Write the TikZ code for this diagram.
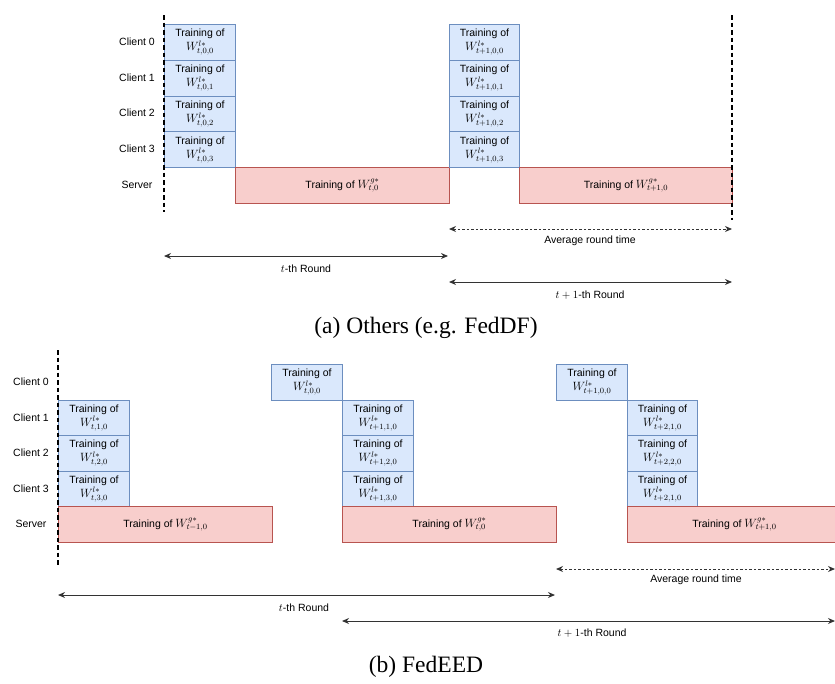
\documentclass[tikz,border=0pt]{standalone}
\usepackage{fontspec}
\setmainfont{Liberation Sans}
\newfontfamily\capfont{Liberation Serif}
\usetikzlibrary{arrows.meta}
\definecolor{cbdraw}{HTML}{6C8EBF}
\definecolor{cbfill}{HTML}{DAE8FC}
\definecolor{srdraw}{HTML}{B85450}
\definecolor{srfill}{HTML}{F8CECC}
\newcommand{\lblfont}{\fontsize{10.5}{12.5}\selectfont}
\newcommand{\wsz}{\fontsize{11.5}{12.5}\selectfont}
\newcommand{\WL}[1]{{\wsz$W^{l*}_{#1}$}}
\newcommand{\WG}[1]{{\wsz$W^{g*}_{#1}$}}
\tikzset{
  cbox/.style={draw=cbdraw, fill=cbfill, line width=0.9pt, minimum width=71pt, minimum height=35.75pt, inner sep=0pt, anchor=north west, align=center, font=\lblfont},
  sbox/.style={draw=srdraw, fill=srfill, line width=0.9pt, minimum width=214pt, minimum height=36pt, inner sep=0pt, anchor=north west, align=center, font=\lblfont},
  rowlbl/.style={font=\lblfont, inner sep=0pt},
  txtlbl/.style={font=\lblfont, inner sep=0pt},
  sepline/.style={line width=1.6pt, dash pattern=on 4.5pt off 3pt},
  spanarrow/.style={{Stealth[length=7pt,width=6pt]}-{Stealth[length=7pt,width=6pt]}, line width=1pt, draw=black!80},
  avgarrow/.style={spanarrow, dash pattern=on 2.5pt off 2pt},
  caption/.style={font=\capfont\fontsize{23.5}{26}\selectfont, inner sep=0pt}
}
\begin{document}
\begin{tikzpicture}[x=1pt,y=-1pt]
\useasboundingbox (0,0) rectangle (835,683);

% ================= (a) =================
\node[rowlbl] (aL0) at (137,42) {Client 0};
\node[rowlbl] (aL1) at (137,77.5) {Client 1};
\node[rowlbl] (aL2) at (137,113) {Client 2};
\node[rowlbl] (aL3) at (137,149) {Client 3};
\node[rowlbl] (aLS) at (137,185) {Server};

\node[cbox] (a10) at (164,24) {Training of\\[1.5pt]\WL{t,0,0}};
\node[cbox] (a11) at (164,59.75) {Training of\\[1.5pt]\WL{t,0,1}};
\node[cbox] (a12) at (164,95.5) {Training of\\[1.5pt]\WL{t,0,2}};
\node[cbox] (a13) at (164,131.25) {Training of\\[1.5pt]\WL{t,0,3}};
\node[sbox] (aS1) at (235,167) {Training of \WG{t,0}};

\node[cbox, minimum width=70pt] (a20) at (449,24) {Training of\\[1.5pt]\WL{t+1,0,0}};
\node[cbox, minimum width=70pt] (a21) at (449,59.75) {Training of\\[1.5pt]\WL{t+1,0,1}};
\node[cbox, minimum width=70pt] (a22) at (449,95.5) {Training of\\[1.5pt]\WL{t+1,0,2}};
\node[cbox, minimum width=70pt] (a23) at (449,131.25) {Training of\\[1.5pt]\WL{t+1,0,3}};
\node[sbox, minimum width=213pt] (aS2) at (519,167) {Training of \WG{t+1,0}};

\coordinate (aV1t) at (164,15);
\coordinate (aV1b) at (164,212);
\coordinate (aV2t) at (732,15);
\coordinate (aV2b) at (732,220);
\draw[sepline] (aV1t) -- (aV1b);
\draw[sepline] (aV2t) -- (aV2b);

\coordinate (aAvgL) at (449,229);
\coordinate (aAvgR) at (732,229);
\draw[avgarrow] (aAvgL) -- (aAvgR);
\node[txtlbl] (aAvgT) at (590,241) {Average round time};

\coordinate (aTL) at (164,256);
\coordinate (aTR) at (448,256);
\draw[spanarrow] (aTL) -- (aTR);
\node[txtlbl] (aTT) at (306,269) {$t$-th Round};

\coordinate (aT1L) at (449,282);
\coordinate (aT1R) at (732,282);
\draw[spanarrow] (aT1L) -- (aT1R);
\node[txtlbl] (aT1T) at (590,295) {$t+1$-th Round};

\node[caption] (capA) at (426,328) {(a) Others (e.g. FedDF)};

% ================= (b) =================
\node[rowlbl] (bL0) at (31,382) {Client 0};
\node[rowlbl] (bL1) at (31,417.5) {Client 1};
\node[rowlbl] (bL2) at (31,453) {Client 2};
\node[rowlbl] (bL3) at (31,488.5) {Client 3};
\node[rowlbl] (bLS) at (31,524) {Server};

\node[cbox, minimum height=35.5pt] (b11) at (58,399.5) {Training of\\[1.5pt]\WL{t,1,0}};
\node[cbox, minimum height=35.5pt] (b12) at (58,435) {Training of\\[1.5pt]\WL{t,2,0}};
\node[cbox, minimum height=35.5pt] (b13) at (58,470.5) {Training of\\[1.5pt]\WL{t,3,0}};
\node[sbox] (bS1) at (58,506) {Training of \WG{t-1,0}};

\node[cbox, minimum height=35.5pt] (b20) at (271,364) {Training of\\[1.5pt]\WL{t,0,0}};
\node[cbox, minimum height=35.5pt] (b21) at (342,399.5) {Training of\\[1.5pt]\WL{t+1,1,0}};
\node[cbox, minimum height=35.5pt] (b22) at (342,435) {Training of\\[1.5pt]\WL{t+1,2,0}};
\node[cbox, minimum height=35.5pt] (b23) at (342,470.5) {Training of\\[1.5pt]\WL{t+1,3,0}};
\node[sbox] (bS2) at (342,506) {Training of \WG{t,0}};

\node[cbox, minimum height=35.5pt] (b30) at (556,364) {Training of\\[1.5pt]\WL{t+1,0,0}};
\node[cbox, minimum height=35.5pt, minimum width=70pt] (b31) at (627,399.5) {Training of\\[1.5pt]\WL{t+2,1,0}};
\node[cbox, minimum height=35.5pt, minimum width=70pt] (b32) at (627,435) {Training of\\[1.5pt]\WL{t+2,2,0}};
\node[cbox, minimum height=35.5pt, minimum width=70pt] (b33) at (627,470.5) {Training of\\[1.5pt]\WL{t+2,1,0}};
\node[sbox] (bS3) at (627,506) {Training of \WG{t+1,0}};

\coordinate (bVt) at (58,350);
\coordinate (bVb) at (58,565);
\draw[sepline] (bVt) -- (bVb);

\coordinate (bAvgL) at (556,569);
\coordinate (bAvgR) at (835,569);
\draw[avgarrow] (bAvgL) -- (bAvgR);
\node[txtlbl] (bAvgT) at (696,580) {Average round time};

\coordinate (bTL) at (58,595);
\coordinate (bTR) at (555,595);
\draw[spanarrow] (bTL) -- (bTR);
\node[txtlbl] (bTT) at (304,608) {$t$-th Round};

\coordinate (bT1L) at (342,621);
\coordinate (bT1R) at (835,621);
\draw[spanarrow] (bT1L) -- (bT1R);
\node[txtlbl] (bT1T) at (592,633) {$t+1$-th Round};

\node[caption] (capB) at (426,667) {(b) FedEED};
\end{tikzpicture}
\end{document}
